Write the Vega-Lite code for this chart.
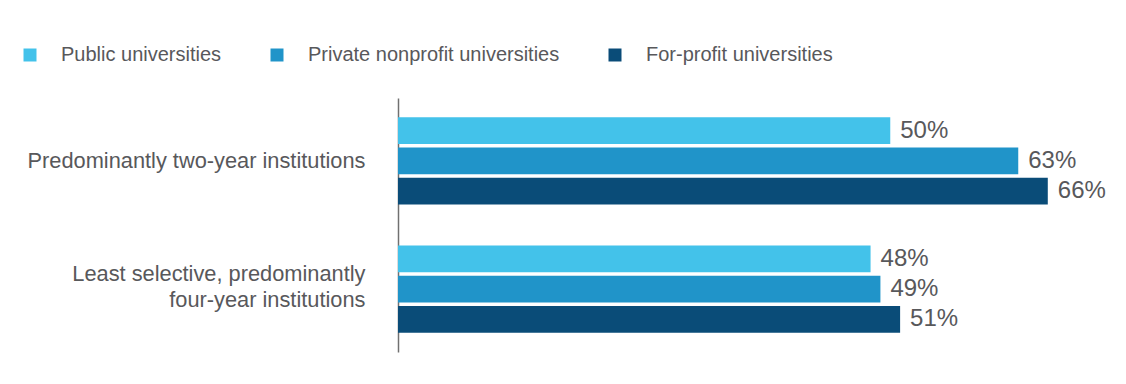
{
  "$schema": "https://vega.github.io/schema/vega-lite/v6.json",
  "autosize": {"type": "none"},
  "width": 700,
  "height": 254,
  "padding": {"left": 398, "top": 98, "right": 28, "bottom": 32},
  "background": "white",
  "config": {
    "view": {"stroke": null},
    "font": "Liberation Sans"
  },
  "data": {
    "values": [
      {"category": "Predominantly two-year institutions", "type": "Public universities", "value": 50, "label": "50%"},
      {"category": "Predominantly two-year institutions", "type": "Private nonprofit universities", "value": 63, "label": "63%"},
      {"category": "Predominantly two-year institutions", "type": "For-profit universities", "value": 66, "label": "66%"},
      {"category": "Least selective, predominantly four-year institutions", "type": "Public universities", "value": 48, "label": "48%"},
      {"category": "Least selective, predominantly four-year institutions", "type": "Private nonprofit universities", "value": 49, "label": "49%"},
      {"category": "Least selective, predominantly four-year institutions", "type": "For-profit universities", "value": 51, "label": "51%"}
    ]
  },
  "encoding": {
    "y": {
      "field": "category",
      "type": "nominal",
      "sort": ["Predominantly two-year institutions", "Least selective, predominantly four-year institutions"],
      "scale": {"paddingInner": 0.32, "paddingOuter": 0.15},
      "axis": {
        "title": null,
        "ticks": false,
        "domain": true,
        "domainColor": "#707070",
        "domainWidth": 1.5,
        "labelPadding": 33,
        "labelFontSize": 21.8,
        "labelColor": "#58585b",
        "labelLineHeight": 26,
        "labelLimit": 400,
        "labelOffset": {"condition": {"test": "datum.value == 'Least selective, predominantly four-year institutions'", "value": -15}, "value": 0},
        "labelExpr": "datum.label == 'Least selective, predominantly four-year institutions' ? ['Least selective, predominantly', 'four-year institutions'] : datum.label"
      }
    },
    "yOffset": {
      "field": "type",
      "type": "nominal",
      "sort": ["Public universities", "Private nonprofit universities", "For-profit universities"],
      "scale": {"paddingInner": 0.115, "paddingOuter": 0}
    },
    "x": {
      "field": "value",
      "type": "quantitative",
      "scale": {"domain": [0, 71.1]},
      "axis": null
    }
  },
  "layer": [
    {
      "mark": {"type": "bar"},
      "encoding": {
        "color": {
          "field": "type",
          "type": "nominal",
          "sort": ["Public universities", "Private nonprofit universities", "For-profit universities"],
          "scale": {
            "domain": ["Public universities", "Private nonprofit universities", "For-profit universities"],
            "range": ["#43c2ea", "#2094c9", "#0a4c78"]
          },
          "legend": {
            "title": null,
            "orient": "none",
            "direction": "horizontal",
            "legendX": -378,
            "legendY": -53,
            "symbolType": "square",
            "symbolSize": 169,
            "symbolStrokeWidth": 0,
            "symbolOpacity": 1,
            "labelFontSize": 20,
            "labelColor": "#58585b",
            "labelOffset": 21,
            "columnPadding": 45,
            "labelLimit": 400
          }
        }
      }
    },
    {
      "mark": {"type": "text", "align": "left", "baseline": "middle", "dx": 10, "fontSize": 24, "color": "#58585b"},
      "encoding": {
        "text": {"field": "label"},
        "detail": {"field": "type"}
      }
    }
  ]
}
